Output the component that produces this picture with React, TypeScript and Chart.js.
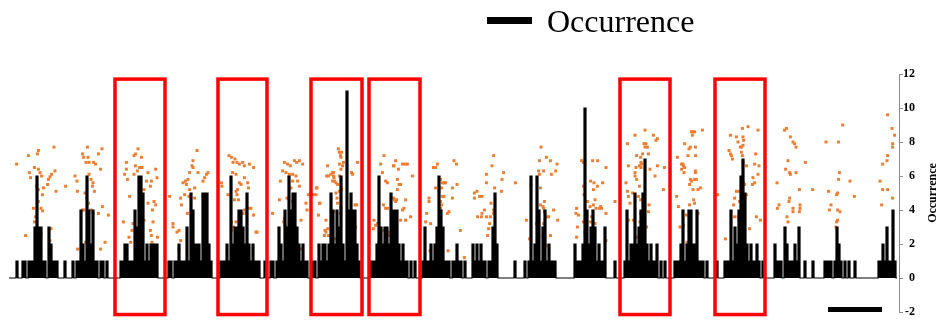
import React, { useEffect, useRef } from "react";
import { Chart, registerables } from "chart.js";

Chart.register(...registerables);

// ---- Occurrence series: bouts of activity (value per sample), zeros elsewhere ----
const sampleCount = 445;
const boutStarts = [3, 32, 55, 79, 105, 131, 152, 180, 207, 231, 252, 282, 307, 333, 354, 383, 407, 434];
const boutA = [0, 1, 0, 0, 1, 1, 0, 1, 1, 1, 3, 6, 3, 3, 1, 1, 0, 3, 2, 1, 1, 1, 0, 0, 0, 1, 0];
const boutB = [1, 0, 1, 1, 4, 2, 1, 6, 4, 2, 4, 1, 1, 0, 1, 1, 0, 1, 0];
const boutC = [0, 1, 1, 2, 2, 1, 1, 1, 4, 3, 6, 6, 5, 1, 2, 1, 2, 2, 2, 2, 0];
const boutD = [0, 1, 1, 0, 1, 1, 2, 1, 1, 1, 3, 1, 5, 4, 2, 2, 2, 1, 5, 5, 5, 2, 1, 0];
const boutE = [0, 1, 1, 1, 2, 1, 6, 2, 3, 3, 4, 4, 3, 2, 5, 2, 1, 2, 1, 1, 1, 0, 0, 1, 0];
const boutF = [1, 1, 0, 1, 3, 2, 1, 4, 3, 6, 4, 5, 5, 3, 2, 1, 2, 1, 1, 0, 0];
const boutG = [1, 1, 0, 2, 1, 2, 2, 1, 2, 5, 4, 2, 4, 3, 6, 2, 1, 11, 4, 5, 4, 4, 2, 1, 0];
const boutH = [0, 1, 1, 1, 2, 6, 3, 2, 3, 3, 2, 5, 4, 4, 4, 2, 1, 2, 1, 1, 0, 1, 0, 1, 0];
const boutI = [1, 3, 1, 1, 2, 1, 2, 3, 6, 4, 3, 1, 1, 1, 0, 1, 1, 2, 1, 1, 0, 1, 0];
const boutJ = [0, 2, 1, 2, 1, 2, 1, 1, 0, 1, 1, 3, 5, 2, 0];
const boutK = [0, 1, 0, 0, 0, 0, 1, 0, 1, 6, 1, 2, 6, 4, 1, 3, 4, 1, 2, 1, 1, 1, 0];
const boutL = [0, 2, 1, 1, 1, 2, 10, 4, 2, 3, 4, 3, 1, 2, 1, 1, 3, 0, 0, 0, 0, 1, 0];
const boutM = [0, 1, 4, 1, 2, 2, 5, 2, 3, 4, 5, 7, 2, 1, 2, 1, 1, 2, 0, 1, 0, 1, 0];
const boutN = [1, 1, 1, 2, 4, 1, 2, 4, 4, 2, 2, 4, 1, 1, 1, 0, 1, 0];
const boutO = [1, 0, 0, 0, 1, 1, 1, 4, 1, 3, 2, 4, 6, 7, 5, 2, 1, 2, 1, 1, 2, 1, 0, 1, 0];
const boutP = [2, 1, 1, 1, 0, 3, 2, 1, 1, 1, 2, 1, 3, 0, 0, 1, 0, 0, 0, 1, 0];
const boutQ = [0, 1, 1, 1, 1, 0, 1, 3, 2, 1, 0, 1, 0, 1, 0, 0, 1, 0];
const boutR = [0, 1, 1, 2, 1, 3, 1, 1, 4, 1, 0];

// ---- Orange scatter points [sample, value] ----
const dotsAB = [[3.8,6.7],[9.7,7.2],[14.2,7.3],[14.7,7.5],[22.5,7.7],[12.7,6.5],[14.7,6.4],[10.2,6.2],[10.8,5.9],[15.5,6.2],[16.3,6.0],[23,6.3],[21.3,6.1],[20.5,5.95],[19.7,5.8],[19.3,5.5],[17.2,5.3],[16.7,4.9],[14.7,5.2],[23.5,5.1],[13.8,5.4],[14.7,4.5],[16,4.1],[16.8,3.95],[12.2,4.1],[13.3,3.6],[12.7,3.3],[16,2.6],[8.3,2.5],[21,2.9],[20.5,2.2],
  [28.3,5.4],[33,6.0],[34,5.7],[34.2,5.1],[36.8,7.3],[37.3,7.1],[39.2,7.7],[39.5,7.1],[38.5,6.8],[40,6.8],[42.3,6.8],[43.3,6.7],[44.7,7.3],[46.5,7.6],[45.8,6.4],[40,6.1],[41,5.8],[42,5.6],[41.7,5.4],[42.7,5.1],[38,5.0],[38.8,4.7],[39.7,4.4],[37.5,4.0],[36.7,4.0],[41,4.0],[42,3.8],[46.7,4.2],[44.7,3.8],[49.7,3.7],[48,2.1],[45.8,1.7],[39.7,2.9],[39.3,2.3],[38.3,2.1],[34.3,1.7]];
const dotsC = [[64.5,7.6],[63.3,7.3],[62.5,7.2],[66.2,7.1],[58.7,6.8],[63.2,6.6],[65.3,6.5],[66.5,6.5],[64.2,6.3],[58.7,6.4],[57.8,6.1],[62.5,6.1],[59.2,5.8],[69.5,6.2],[73.3,6.4],[68.7,5.7],[71.2,5.7],[70.7,5.4],[74,5.9],[67.5,5.2],[60.3,4.8],[65.3,4.8],[69.5,4.4],[72.5,4.5],[73.3,4.3],[71.7,4.0],[57.2,3.3],[62,3.2],[67.5,3.4],[72,3.3],[61.5,2.8],[70.7,2.8],[64.8,2.5],[60,2.4],[71.2,2.5],[74.2,2.4],[60.8,2.1],[66.5,2.1],[71.5,2.1]];
const dotsD = [[94,7.5],[92,6.9],[91.5,6.6],[92,6.5],[90.3,6.2],[94.5,6.2],[99.5,6.2],[98.7,6.1],[97.8,5.9],[97,5.7],[89.5,5.8],[88.2,5.7],[87,5.6],[88.7,5.5],[92.8,5.3],[90.3,5.2],[87.8,4.9],[90,4.8],[92.8,4.7],[85.8,4.7],[86.2,4.3],[80.3,4.8],[97,4.8],[97.8,4.5],[89.2,3.8],[91.5,3.9],[82,3.2],[84,2.7],[85,2.8],[82,3.0],[85.8,2.2],[85,1.7],[91.5,2.3],[98.7,4.0]];
const dotsE = [[110,7.2],[111.2,7.1],[112,6.8],[106.2,5.6],[106.5,5.4],[109.5,4.9],[111.2,3.3],[111.2,2.8],[113,7.0],[114,6.8],[115.2,6.7],[116.8,6.8],[117.7,6.6],[120.2,6.7],[122.3,6.5],[111.8,6.2],[113.5,6.1],[115.2,5.6],[116,5.5],[114.3,5.2],[113.5,5.1],[114,4.9],[112.7,4.6],[117.7,5.9],[119.3,5.6],[119.7,5.3],[114.7,4.6],[117.7,4.0],[116.8,3.8],[118.5,3.8],[120.2,4.1],[122.3,3.7],[121,4.1],[113.5,3.3],[112.3,3.0],[123.5,2.7],[124,2.7]];
const dotsF = [[137.7,6.8],[139.3,6.7],[140.7,6.6],[142.7,6.9],[143.8,6.8],[145.2,6.9],[146.8,6.7],[138.5,6.2],[140.2,6.1],[141.8,6.1],[143.5,6.0],[136.8,6.3],[135.7,5.7],[144.3,5.7],[145.2,5.4],[141.8,5.7],[141,5.3],[135.2,4.6],[139,4.7],[141.8,4.5],[137.7,3.5],[137.3,3.3],[138,3.1],[146,3.4],[142.7,2.4],[146,1.7],[141,0.8],[131.8,3.8],[148.5,4.4],[149,4.0],[149.7,4.9],[150.7,5.0]];
const dotsG = [[154,5.3],[155.2,4.4],[159.3,6.6],[161,6.1],[161.8,6.2],[162.3,6.0],[164.7,7.6],[165.2,7.4],[165.7,7.2],[166,7.1],[165.2,6.7],[166,6.4],[165.2,6.0],[161.8,5.7],[162.7,5.7],[164.3,5.5],[163.5,5.0],[165.2,5.1],[164,4.7],[164.3,4.4],[166,4.1],[165.7,3.8],[162.3,3.9],[158.5,3.4],[161,3.2],[159.3,2.9],[158.5,2.7],[161,2.5],[162.7,2.3],[157.7,2.5],[166.3,7.4],[167.2,6.8],[166.8,6.6],[162.2,6.2],[162.5,5.9],[159.7,6.0],[158.8,6.0],[163.5,5.6],[166.3,5.2],[171.3,6.2],[171.8,6.1],[174.2,6.8],[153.8,5.3],[152.2,4.9],[153.5,4.9],[173,4.3],[170.5,3.9],[155.5,4.4],[158,2.8],[159.7,2.5],[170.5,2.4],[170.2,2.2],[172.2,2.6],[154.7,3.7],[171.2,6.2],[173.8,4.3],[173.3,3.0],[170,2.4]];
const dotsH = [[187.5,7.2],[185.8,6.7],[192.2,6.6],[193.3,6.9],[192.5,6.6],[196.7,6.7],[198,6.7],[199.2,6.7],[194.7,6.4],[201.7,6.0],[186.7,6.2],[188.3,5.7],[189.2,5.6],[194.2,5.8],[195,5.5],[195.8,5.5],[194.2,5.2],[187.2,4.3],[188.3,4.1],[189.2,4.1],[192.2,4.7],[192.8,4.6],[193.8,4.6],[193.3,4.5],[196.7,4.0],[197.5,4.1],[198.3,4.6],[195.8,3.4],[198.3,3.4],[200.8,3.6],[182.5,3.4],[183.3,3.1],[182.2,2.9],[184.2,3.2],[187.5,2.8],[189.2,2.7],[190,2.5],[190.8,2.7],[185,2.1]];
const dotsI = [[212.2,6.5],[214.2,6.7],[213.3,6.5],[215.8,5.8],[216.7,5.6],[217.5,5.6],[218.3,5.6],[213.3,5.3],[216.2,5.3],[215,5.1],[216.7,4.8],[217.5,4.8],[215.8,4.5],[216.3,4.3],[215.8,4.1],[210,4.7],[210,4.5],[208.8,3.8],[208.3,3.3],[210.8,3.2],[220,3.9],[219.2,3.8],[221.7,5.3],[221.7,4.7],[222.5,6.9],[223.7,6.7],[210.5,1.6],[213.3,1.6],[219.5,1.6],[224,5.5],[225.7,2.8],[227.7,1.2]];
const dotsJK = [[242.3,7.2],[241.5,6.6],[238.7,6.1],[238.7,5.6],[247.3,6.2],[246.5,5.8],[242.8,5.3],[246.2,5.1],[234,5.1],[232.7,5.0],[232.7,4.7],[235.3,4.8],[236.5,4.8],[241,4.4],[242.3,4.0],[242.3,3.8],[237.7,4.0],[236.5,3.8],[236.2,3.6],[234.3,3.6],[238.7,3.6],[240.7,3.6],[240.3,3.2],[239.8,2.9],[239.3,2.5],[253.2,5.6],[258.7,3.4],
  [266,7.7],[268.7,7.1],[270.7,6.9],[274,6.7],[273.3,6.3],[271.2,6.1],[265.2,6.9],[264.8,6.3],[265.2,6.1],[267.3,6.3],[265.7,5.3],[267.7,4.5],[267,4.2],[267.3,4.1],[267.7,3.9],[269,3.6],[269.8,3.6],[272.3,4.0],[274.3,3.4],[265.7,4.3],[263.7,3.2],[267.3,3.2],[267,2.5],[270.7,2.5],[263.2,1.8],[268.7,1.9],[260.3,2.3],[261,5.5]];
const dotsL = [[286.3,6.9],[287.2,6.8],[291.8,6.9],[294.3,6.9],[298.5,6.5],[290.8,5.7],[292.5,5.6],[294.2,5.4],[296.8,5.6],[292.2,5.2],[287.2,5.4],[287.5,4.9],[289.2,4.5],[293,4.6],[290.5,4.2],[292.2,4.3],[293.5,4.1],[295.2,4.1],[295.8,4.2],[296.3,4.1],[298.5,3.8],[283.8,4.1],[283.5,3.8],[284.7,3.7],[291.3,3.6],[290.8,3.3],[287.2,3.3],[288,2.7],[284.2,3.0],[283.8,2.4],[293,3.2],[298.5,2.2],[303,4.5]];
const dotsM = [[318,8.7],[322.2,8.4],[324.2,8.2],[323.5,8.1],[313,8.4],[309.2,7.9],[317.5,7.9],[318.5,7.9],[318,7.7],[319.2,7.7],[316.8,7.3],[319.7,7.3],[313.8,7.2],[315.8,7.1],[316,6.8],[315.2,6.6],[313.5,6.5],[313,6.2],[316,6.5],[316.3,6.7],[309.7,6.6],[320.5,6.4],[324.2,6.6],[327.7,6.5],[313,6.0],[313.8,5.8],[323,6.0],[308.5,5.6],[315.2,5.4],[311.8,5.0],[309.2,5.1],[309.7,4.8],[314.7,4.8],[315.8,4.6],[310.5,4.4],[320,4.3],[319.7,3.9],[315.8,3.8],[327.2,5.2],[312.2,3.4],[309.7,3.4],[318.8,3.0],[315.5,3.3],[313.8,2.4]];
const dotsN = [[334.2,7.1],[336.3,6.7],[337.2,6.6],[336.3,6.4],[333.8,4.8],[334.7,4.2],[335.5,3.0],[337.2,3.1],[341.2,8.6],[342,8.6],[342.8,8.6],[341.7,8.4],[346.7,8.7],[337.8,7.9],[340,7.6],[340.7,7.7],[339.5,7.2],[343.2,7.7],[343.3,7.2],[337,6.7],[337.8,6.5],[337.5,6.2],[343.2,6.3],[343.2,6.2],[340.7,5.8],[341.2,5.7],[342.8,5.8],[343.7,5.8],[340.3,5.5],[342,5.2],[344.5,5.2],[345.7,5.3],[342.3,4.6],[342.8,4.4],[340.3,4.3],[344.5,3.8],[338.7,3.7],[339,2.1]];
const dotsO = [[366.7,8.8],[369.5,8.9],[374.5,8.7],[360.7,8.4],[363.7,8.3],[367,8.3],[367.3,8.1],[364.5,8.0],[366.2,7.7],[365.7,7.7],[367,7.8],[360,7.5],[360.7,7.3],[361.2,7.2],[361.7,7.0],[366.2,7.4],[366.7,7.2],[373.3,7.3],[367,6.8],[368.7,6.6],[372.8,6.7],[375,6.6],[374.5,6.1],[372,5.9],[371.7,5.5],[372.8,5.6],[367.3,5.6],[367.8,5.5],[363.7,5.1],[365,5.1],[368.7,4.9],[362.8,4.7],[365.3,4.5],[362.3,4.3],[362.8,3.6],[364.5,3.6],[365,3.4],[373.7,3.6],[375.7,3.4],[370.3,2.9],[358.2,2.3],[354.2,4.9]];
const dotsPQR = [[388.7,8.8],[387.8,8.7],[390.7,8.3],[392,8.0],[392.8,7.9],[389.5,6.9],[388.3,6.4],[390.3,6.2],[390.7,6.1],[384,5.6],[390.3,4.7],[390,4.5],[385,4.3],[384.2,4.1],[392,4.1],[392,3.9],[389,3.6],[389.5,3.3],[393.5,7.7],[398.2,6.8],[393.5,6.2],[395.2,5.2],[395.5,4.3],[395.5,4.1],[395.2,3.9],[401.8,5.2],
  [408.5,8.0],[414.8,8.0],[416.8,9.0],[415.2,6.2],[414.8,5.8],[409.8,5.1],[414.3,5.0],[413.8,4.9],[411,4.3],[410.2,4.0],[414.3,4.0],[415.5,3.9],[414.3,3.4],[413.8,3.3],[413.5,3.0],[420.5,5.7],[422.7,4.8],
  [439.3,9.6],[441.5,8.8],[442.8,8.4],[441.8,7.9],[441.8,7.7],[439.3,7.2],[439,6.9],[436.8,6.7],[435.5,5.7],[436.8,5.2],[439.3,5.2],[436.3,4.3],[441.8,4.7]];

// ---- Highlight boxes (sample ranges) and scale bar, in data units ----
const boxRanges = [[53, 78], [104.5, 129], [151, 176.5], [180, 205.5], [305.5, 330.5], [353, 378]];
const boxTop = 11.7;
const boxBottom = -2.15;
const scaleBarRange = [409.5, 436.5];
const scaleBarLevel = -1.85;

const yMin = -2;
const yMax = 12;
const yStep = 2;
const yTitle = "Occurrence";

const SERIF = "'Liberation Serif', 'Times New Roman', serif";

const bouts = [boutA, boutB, boutC, boutD, boutE, boutF, boutG, boutH, boutI, boutJ, boutK, boutL, boutM, boutN, boutO, boutP, boutQ, boutR];
const dotGroups = [dotsAB, dotsC, dotsD, dotsE, dotsF, dotsG, dotsH, dotsI, dotsJK, dotsL, dotsM, dotsN, dotsO, dotsPQR];

const overlayPlugin = {
  id: "overlays",
  afterDatasetsDraw(chart: any) {
    const { ctx, scales, chartArea } = chart;
    const x = scales.x;
    const y = scales.y;
    ctx.save();
    ctx.strokeStyle = "#FF0000";
    ctx.lineWidth = 3.5;
    boxRanges.forEach(([a, b]) => {
      const x0 = x.getPixelForValue(a);
      const x1 = x.getPixelForValue(b);
      const y0 = y.getPixelForValue(boxTop);
      const y1 = y.getPixelForValue(boxBottom);
      ctx.strokeRect(x0, y0, x1 - x0, y1 - y0);
    });
    ctx.strokeStyle = "#000000";
    ctx.lineWidth = 5;
    ctx.beginPath();
    const yb = y.getPixelForValue(scaleBarLevel);
    ctx.moveTo(x.getPixelForValue(scaleBarRange[0]), yb);
    ctx.lineTo(x.getPixelForValue(scaleBarRange[1]), yb);
    ctx.stroke();
    // right axis title, reading bottom-to-top
    ctx.translate(y.right + 18, (chartArea.top + chartArea.bottom) / 2);
    ctx.rotate(-Math.PI / 2);
    ctx.fillStyle = "#000000";
    ctx.font = "bold 12px " + SERIF;
    ctx.textAlign = "center";
    ctx.textBaseline = "middle";
    ctx.fillText(yTitle, 0, 0);
    ctx.restore();
  },
};

export default function App() {
  const canvasRef = useRef<HTMLCanvasElement | null>(null);

  useEffect(() => {
    document.body.style.margin = "0";
    const series: number[] = new Array(sampleCount).fill(0);
    bouts.forEach((b, k) => b.forEach((v, j) => { series[boutStarts[k] + j] = v; }));
    const lineData = series.map((v, i) => ({ x: i, y: v }));
    const dotData = dotGroups.flat().map(([a, b]) => ({ x: a, y: b }));

    const chart = new Chart(canvasRef.current as HTMLCanvasElement, {
      type: "line",
      data: {
        datasets: [
          {
            label: "Occurrence",
            data: lineData,
            borderColor: "#000000",
            backgroundColor: "#000000",
            borderWidth: 1.2,
            pointRadius: 0,
            stepped: "middle",
            fill: "origin",
          } as any,
          {
            type: "scatter",
            label: "Points",
            data: dotData,
            showLine: false,
            pointStyle: "rect",
            pointRadius: 2.1,
            backgroundColor: "#ED7D31",
            borderColor: "#ED7D31",
            borderWidth: 0,
          } as any,
        ],
      },
      options: {
        responsive: false,
        animation: false,
        devicePixelRatio: 1,
        layout: { padding: { left: 9, top: 74, bottom: 10, right: 36 } },
        plugins: { legend: { display: false }, tooltip: { enabled: false } },
        scales: {
          x: { type: "linear", min: 0, max: sampleCount, display: false },
          y: {
            position: "right",
            min: yMin,
            max: yMax,
            ticks: {
              stepSize: yStep,
              color: "#000000",
              padding: 0,
              crossAlign: "far",
              font: { family: SERIF, size: 12, weight: "bold" },
            },
            grid: { drawOnChartArea: false, drawTicks: true, tickLength: 4, color: "#8c8c8c" },
            border: { color: "#8c8c8c" },
            title: { display: false },
          },
        },
      },
      plugins: [overlayPlugin],
    });
    return () => chart.destroy();
  }, []);

  return (
    <div style={{ position: "relative", width: 951, height: 322, background: "#fff" }}>
      <canvas ref={canvasRef} width={951} height={322} style={{ display: "block" }} />
      <div style={{ position: "absolute", left: 487, top: 17, width: 45, height: 7, background: "#000" }} />
      <div
        style={{
          position: "absolute",
          left: 547,
          top: 5,
          fontFamily: SERIF,
          fontSize: 32,
          lineHeight: "32px",
          color: "#000",
          whiteSpace: "nowrap",
        }}
      >
        Occurrence
      </div>
    </div>
  );
}
